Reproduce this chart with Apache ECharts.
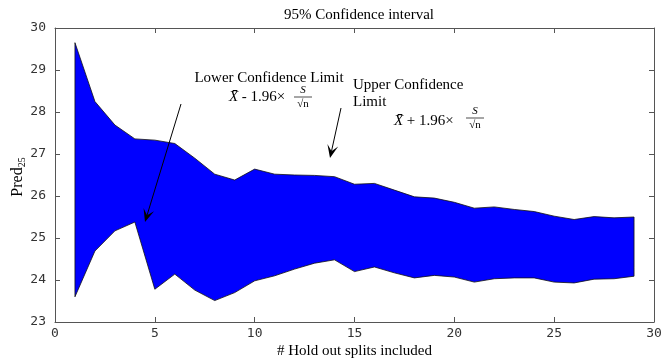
<!DOCTYPE html>
<html><head><meta charset="utf-8">
<script src="https://cdn.jsdelivr.net/npm/echarts@6/dist/echarts.min.js"></script>
<style>html,body{margin:0;padding:0;background:#fff}#c{width:672px;height:361px}</style>
</head><body><div id="c"></div>
<script>
const splits = [1,2,3,4,5,6,7,8,9,10,11,12,13,14,15,16,17,18,19,20,21,22,23,24,25,26,27,28,29];
const upper = [29.65,28.25,27.69,27.36,27.33,27.25,26.90,26.52,26.38,26.64,26.52,26.50,26.49,26.46,26.28,26.30,26.14,25.98,25.95,25.85,25.71,25.74,25.68,25.63,25.52,25.44,25.51,25.48,25.50];
const lower = [23.60,24.69,25.17,25.38,23.78,24.14,23.76,23.51,23.70,23.98,24.10,24.26,24.40,24.48,24.20,24.31,24.17,24.05,24.11,24.07,23.95,24.03,24.05,24.05,23.95,23.93,24.02,24.03,24.09];
const xTicks = [0,5,10,15,20,25,30];
const yTicks = [23,24,25,26,27,28,29,30];

const serif = '"Liberation Serif", "DejaVu Serif", serif';
const mono = '"DejaVu Sans Mono", "Liberation Mono", monospace';
const axisColor = '#555';

const chart = echarts.init(document.getElementById('c'), null, {renderer:'canvas'});

function arrow(x1,y1,x2,y2){
  const dx=x2-x1, dy=y2-y1, L=Math.hypot(dx,dy), ux=dx/L, uy=dy/L, px=-uy, py=ux;
  const len=13, w=5.5, notch=7;
  const bx=x2-ux*len, by=y2-uy*len;
  const nx=x2-ux*notch, ny=y2-uy*notch;
  return [
    {type:'line', z:100, shape:{x1:x1,y1:y1,x2:nx,y2:ny}, style:{stroke:'#000',lineWidth:1}, silent:true},
    {type:'polygon', z:100, shape:{points:[[x2,y2],[bx+px*w,by+py*w],[nx,ny],[bx-px*w,by-py*w]]}, style:{fill:'#000'}, silent:true}
  ];
}
function txt(x,y,t,opt){
  return {type:'text', z:100, x:x, y:y, style:Object.assign({text:t, fill:'#000', font:'15px '+serif, textVerticalAlign:'middle'}, opt||{}), silent:true};
}
function frac(cx,cy){
  return [
    txt(cx,cy-7,'S',{font:'italic 11px '+serif, textAlign:'center'}),
    {type:'line', z:100, shape:{x1:cx-9,y1:cy,x2:cx+9,y2:cy}, style:{stroke:'#000',lineWidth:0.7}, silent:true},
    txt(cx,cy+7,'√n',{font:'11px '+serif, textAlign:'center'})
  ];
}

const graphics = [].concat(
  [{type:'text', z:100, x:18, y:177, rotation:Math.PI/2, silent:true,
    style:{text:'{a|Pred}{b|25}', align:'center', verticalAlign:'middle',
      rich:{
        a:{fontFamily:serif, fontSize:16, fill:'#000', color:'#000'},
        b:{fontFamily:serif, fontSize:10, fill:'#000', color:'#000', padding:[8,0,0,0]}
      }}}],
  [txt(269,78,'Lower Confidence Limit',{textAlign:'center'})],
  [txt(229,97,'X\u0304',{font:'italic 15px '+serif})],
  [txt(238,97,' - 1.96×',{})],
  frac(303,97),
  [txt(353,85,'Upper Confidence',{})],
  [txt(353,102,'Limit',{})],
  [txt(394,121,'X\u0304',{font:'italic 15px '+serif})],
  [txt(403,121,' + 1.96×',{})],
  frac(475,118),
  arrow(181,104,145,222),
  arrow(341,108,330,158)
);

const tick = {show:true, inside:true, length:5, lineStyle:{color:axisColor}};
const line = {show:true, onZero:false, lineStyle:{color:axisColor, width:1}};

const option = {
  animation:false,
  backgroundColor:'#fff',
  title:{text:'95% Confidence interval', left:354, top:3, textAlign:'center',
    textStyle:{fontFamily:serif, fontSize:15, fontWeight:'normal', color:'#000'}},
  grid:{left:55, right:18, top:28, bottom:39, containLabel:false, outerBoundsMode:'none'},
  xAxis:[{
    type:'value', min:0, max:30, interval:5,
    name:'# Hold out splits included', nameLocation:'middle', nameGap:22, nameMoveOverlap:false,
    nameTextStyle:{fontFamily:serif, fontSize:15, color:'#000'},
    axisLine:line, axisTick:tick,
    axisLabel:{fontFamily:mono, fontSize:13, color:'#333', margin:5,
      formatter:v=>xTicks.includes(v)?String(v):''},
    splitLine:{show:false}
  },{
    type:'value', position:'top', min:0, max:30, interval:5,
    axisLine:line, axisTick:tick,
    axisLabel:{show:false}, splitLine:{show:false}
  }],
  yAxis:[{
    type:'value', min:23, max:30, interval:1,
    axisLine:line, axisTick:tick,
    axisLabel:{fontFamily:mono, fontSize:13, color:'#333', margin:9,
      formatter:v=>yTicks.includes(v)?String(v):''},
    splitLine:{show:false}
  },{
    type:'value', position:'right', min:23, max:30, interval:1,
    axisLine:line, axisTick:tick,
    axisLabel:{show:false}, splitLine:{show:false}
  }],
  series:[{
    type:'custom',
    coordinateSystem:'cartesian2d',
    data:[[0]],
    clip:true,
    z:2,
    renderItem:function(params, api){
      const pts=[];
      for(let i=0;i<splits.length;i++) pts.push(api.coord([splits[i], upper[i]]));
      for(let i=splits.length-1;i>=0;i--) pts.push(api.coord([splits[i], lower[i]]));
      return {type:'polygon', shape:{points:pts}, style:{fill:'#0000ff', stroke:'#111', lineWidth:0.8}};
    },
    silent:true
  }],
  graphic:graphics
};
chart.setOption(option);
</script>
</body></html>
